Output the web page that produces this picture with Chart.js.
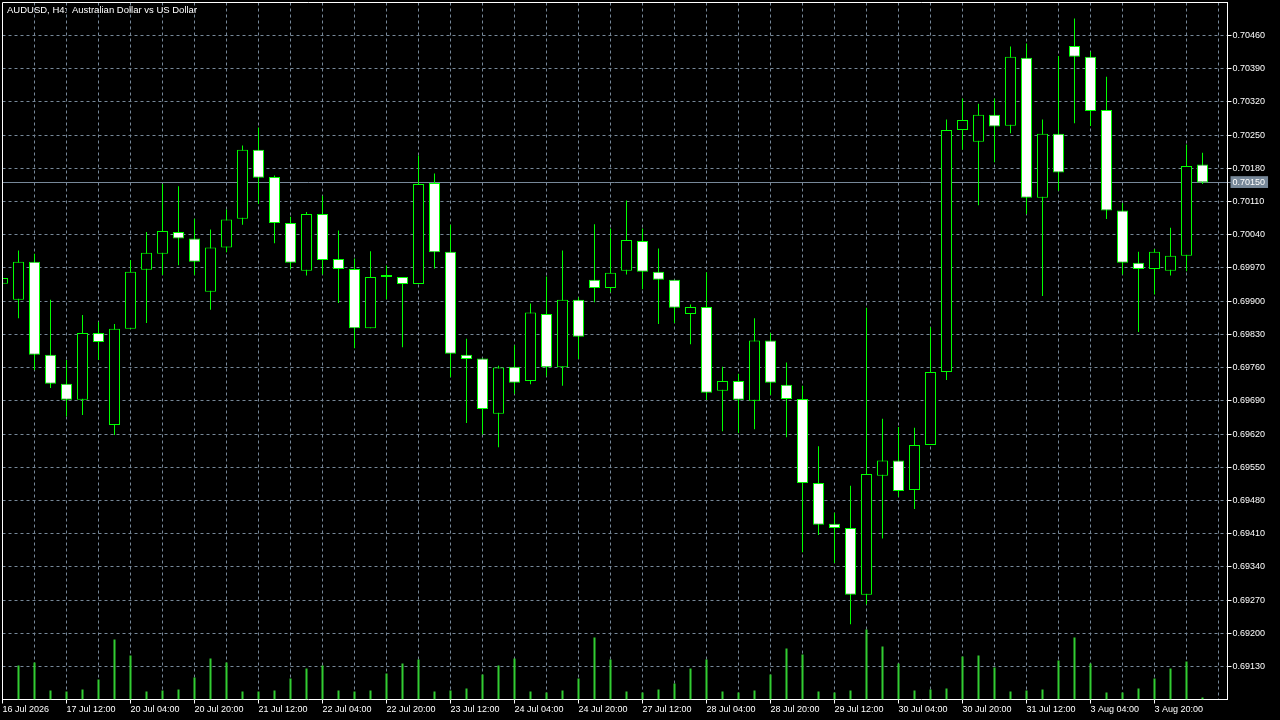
<!DOCTYPE html>
<html><head><meta charset="utf-8">
<script src="https://cdn.jsdelivr.net/npm/chart.js@4.4.1/dist/chart.umd.min.js"></script>
<style>
html,body{margin:0;padding:0;background:#000;overflow:hidden}
#wrap{position:relative;width:1280px;height:720px;background:#000}
#title{position:absolute;left:7px;top:4px;color:#fff;font-family:'Liberation Sans',Arial,sans-serif;font-size:9.5px;line-height:11px;white-space:pre}
</style></head><body>
<div id="wrap"><canvas id="c" width="1280" height="720"></canvas><div id="title">AUDUSD, H4:  Australian Dollar vs US Dollar</div></div>
<script>
// ---- data (bar -1 is the partially visible first candle) ----
const firstBar = -1;
const opens = [0.69937,0.69903,0.69983,0.69787,0.69726,0.69692,0.69833,0.69639,0.69842,0.69966,
  0.70000,0.70046,0.70032,0.69920,0.70013,0.70074,0.70219,0.70162,0.70065,0.69964,
  0.70084,0.69989,0.69968,0.69843,0.69951,0.69951,0.69936,0.70149,0.70004,0.69787,
  0.69779,0.69663,0.69762,0.69732,0.69873,0.69761,0.69903,0.69945,0.69928,0.69964,
  0.70027,0.69962,0.69945,0.69873,0.69888,0.69711,0.69732,0.69690,0.69817,0.69724,
  0.69694,0.69517,0.69431,0.69422,0.69281,0.69532,0.69564,0.69502,0.69597,0.69751,
  0.70261,0.70236,0.70293,0.70270,0.70413,0.70118,0.70253,0.70438,0.70415,0.70303,
  0.70091,0.69981,0.69968,0.69964,0.69996,0.70188];
const highs = [0.69958,0.70007,0.70000,0.69903,0.69776,0.69871,0.69856,0.69852,0.69987,0.70046,
  0.70147,0.70142,0.70074,0.70051,0.70093,0.70228,0.70266,0.70165,0.70078,0.70088,
  0.70122,0.70049,0.69990,0.70005,0.69975,0.69951,0.70207,0.70169,0.70061,0.69821,
  0.69779,0.69764,0.69807,0.69895,0.69952,0.70007,0.69908,0.70062,0.70053,0.70112,
  0.70053,0.70011,0.69945,0.69893,0.69961,0.69762,0.69747,0.69864,0.69833,0.69771,
  0.69722,0.69594,0.69454,0.69511,0.69886,0.69652,0.69635,0.69633,0.69845,0.70283,
  0.70327,0.70316,0.70327,0.70437,0.70443,0.70283,0.70417,0.70496,0.70426,0.70373,
  0.70107,0.70004,0.70010,0.70055,0.70230,0.70213];
const lows = [0.69930,0.69864,0.69755,0.69717,0.69657,0.69660,0.69776,0.69618,0.69842,0.69854,
  0.69955,0.69976,0.69955,0.69882,0.70003,0.70061,0.70105,0.70022,0.69968,0.69954,
  0.69956,0.69896,0.69801,0.69843,0.69904,0.69803,0.69936,0.69969,0.69740,0.69643,
  0.69619,0.69592,0.69705,0.69725,0.69742,0.69722,0.69778,0.69898,0.69919,0.69956,
  0.69925,0.69852,0.69854,0.69809,0.69692,0.69626,0.69622,0.69630,0.69702,0.69613,
  0.69371,0.69407,0.69348,0.69219,0.69261,0.69400,0.69488,0.69462,0.69597,0.69734,
  0.70219,0.70102,0.70193,0.70254,0.70084,0.69911,0.70133,0.70275,0.70269,0.70073,
  0.69956,0.69835,0.69914,0.69954,0.69963,0.70147];
const closes = [0.69949,0.69983,0.69787,0.69726,0.69692,0.69833,0.69814,0.69842,0.69962,0.70002,
  0.70048,0.70032,0.69983,0.70013,0.70072,0.70219,0.70160,0.70065,0.69981,0.70084,
  0.69987,0.69968,0.69843,0.69951,0.69951,0.69936,0.70147,0.70003,0.69789,0.69778,
  0.69673,0.69760,0.69728,0.69876,0.69761,0.69903,0.69825,0.69928,0.69960,0.70029,
  0.69962,0.69945,0.69886,0.69888,0.69707,0.69732,0.69692,0.69817,0.69728,0.69694,
  0.69517,0.69429,0.69422,0.69281,0.69536,0.69564,0.69500,0.69597,0.69751,0.70261,
  0.70282,0.70293,0.70268,0.70415,0.70118,0.70253,0.70171,0.70415,0.70301,0.70091,
  0.69981,0.69968,0.70004,0.69996,0.70185,0.70150];
const volumes = [null,3400,3700,900,800,1000,2000,6000,4400,800,
  900,1000,2200,4100,3700,800,800,900,2100,3100,
  3400,900,800,900,2600,3600,4000,800,900,1100,
  2500,3400,4100,800,700,900,2100,6200,4000,800,
  700,1000,1600,3100,4000,800,700,900,2500,5100,
  4500,800,700,900,7000,5300,3600,900,1000,1100,
  4300,4400,3200,800,900,1000,3900,6200,3600,700,
  700,1100,2100,3100,3800,200];
const timeLabels = ['16 Jul 2026','17 Jul 12:00','20 Jul 04:00','20 Jul 20:00','21 Jul 12:00',
  '22 Jul 04:00','22 Jul 20:00','23 Jul 12:00','24 Jul 04:00','24 Jul 20:00','27 Jul 12:00',
  '28 Jul 04:00','28 Jul 20:00','29 Jul 12:00','30 Jul 04:00','30 Jul 20:00','31 Jul 12:00',
  '3 Aug 04:00','3 Aug 20:00'];
const priceTicks = [0.70460,0.70390,0.70320,0.70250,0.70180,0.70110,0.70040,0.69970,0.69900,0.69830,
  0.69760,0.69690,0.69620,0.69550,0.69480,0.69410,0.69340,0.69270,0.69200,0.69130];
const bid = 0.70150;

// ---- styling ----
const GREEN = '#00ff00', VOLC = '#32cd32', GRID = '#778899', WHITE = '#ffffff';
const FONT = {family:"'Liberation Sans', Arial, sans-serif", size:9};
const barsPerLabel = 4, barsPerGrid = 2;
const xMin = -1, xMax = -1 + 1225/16;
const yMin = 0.69060445, yMax = 0.70529557;

const barNo = opens.map((_, i) => i + firstBar);
const wickData = barNo.map((k, i) => ({x:k, y:[lows[i], highs[i]]}));
const bodyData = barNo.map((k, i) => ({x:k, y:[opens[i], closes[i]]}));
const volData  = barNo.map((k, i) => ({x:k, y:volumes[i]}));
const labelFor = (k) => {
  const j = (k - firstBar) / barsPerLabel;
  return Number.isInteger(j) && j < timeLabels.length ? timeLabels[j] : '';
};
const isBid = (c) => c && c.tick && Math.abs(c.tick.value - bid) < 1e-9;

const frame = {
  id:'frame',
  afterDraw(chart){
    const {ctx, chartArea:a} = chart;
    ctx.save(); ctx.strokeStyle = WHITE; ctx.lineWidth = 1;
    ctx.beginPath();
    ctx.moveTo(a.left, a.bottom); ctx.lineTo(a.left, a.top); ctx.lineTo(a.right, a.top);
    ctx.stroke(); ctx.restore();
  }
};

new Chart(document.getElementById('c'), {
  type:'bar',
  data:{datasets:[
    {label:'Body', data:bodyData, order:0, grouped:false, barThickness:11, borderWidth:1,
     borderColor:GREEN, borderSkipped:false, inflateAmount:0, minBarLength:2,
     backgroundColor:(c) => closes[c.dataIndex] >= opens[c.dataIndex] ? '#000000' : WHITE},
    {label:'Wick', data:wickData, order:1, grouped:false, barThickness:1, borderWidth:0,
     inflateAmount:0, backgroundColor:GREEN},
    {label:'Volume', data:volData, yAxisID:'yVol', order:2, grouped:false, barThickness:2,
     borderWidth:0, inflateAmount:0, backgroundColor:VOLC}
  ]},
  options:{
    responsive:false, animation:false, devicePixelRatio:1,
    layout:{padding:{left:2.5, top:2.5, right:0, bottom:0}},
    plugins:{legend:{display:false}, tooltip:{enabled:false}, title:{display:false}},
    scales:{
      x:{type:'linear', position:'bottom', min:xMin, max:xMax, bounds:'data', offset:false,
        grid:{offset:false, color:(c) => c.index === 0 ? 'rgba(0,0,0,0)' : GRID, lineWidth:1,
          drawTicks:true, tickLength:4, tickBorderDash:[],
          tickColor:(c) => (c.tick && labelFor(c.tick.value)) ? WHITE : 'rgba(0,0,0,0)'},
        border:{display:true, color:WHITE, width:1, dash:[3,3]},
        ticks:{autoSkip:false, maxRotation:0, minRotation:0, align:'start', padding:1,
          color:WHITE, font:FONT, callback:(v) => labelFor(v)},
        afterBuildTicks:(a) => { const t = []; for (let k = firstBar; k <= 75; k += barsPerGrid) t.push({value:k}); a.ticks = t; },
        afterFit:(a) => { a.height = 20.5; a.paddingLeft = 0; a.paddingRight = 0; a.paddingTop = 0; a.paddingBottom = 0; }
      },
      y:{type:'linear', position:'right', min:yMin, max:yMax, bounds:'data',
        grid:{color:GRID, lineWidth:1, drawTicks:true, tickLength:4, tickBorderDash:[],
          tickColor:(c) => isBid(c) ? GRID : WHITE},
        border:{display:true, color:WHITE, width:1, dash:(c) => isBid(c) ? [] : [3,3]},
        ticks:{autoSkip:false, padding:1, font:FONT,
          color:(c) => WHITE,
          callback:(v) => Number(v).toFixed(5),
          showLabelBackdrop:(c) => isBid(c), backdropColor:GRID,
          backdropPadding:{top:1, bottom:0, left:2, right:3}},
        afterBuildTicks:(a) => { a.ticks = priceTicks.concat([bid]).sort((p, q) => p - q).map(v => ({value:v})); },
        afterFit:(a) => { a.width = 52.5; a.paddingLeft = 0; a.paddingRight = 0; a.paddingTop = 0; a.paddingBottom = 0; }
      },
      yVol:{type:'linear', display:false, min:0, max:69700, bounds:'data'}
    }
  },
  plugins:[frame]
});
</script>
</body></html>
